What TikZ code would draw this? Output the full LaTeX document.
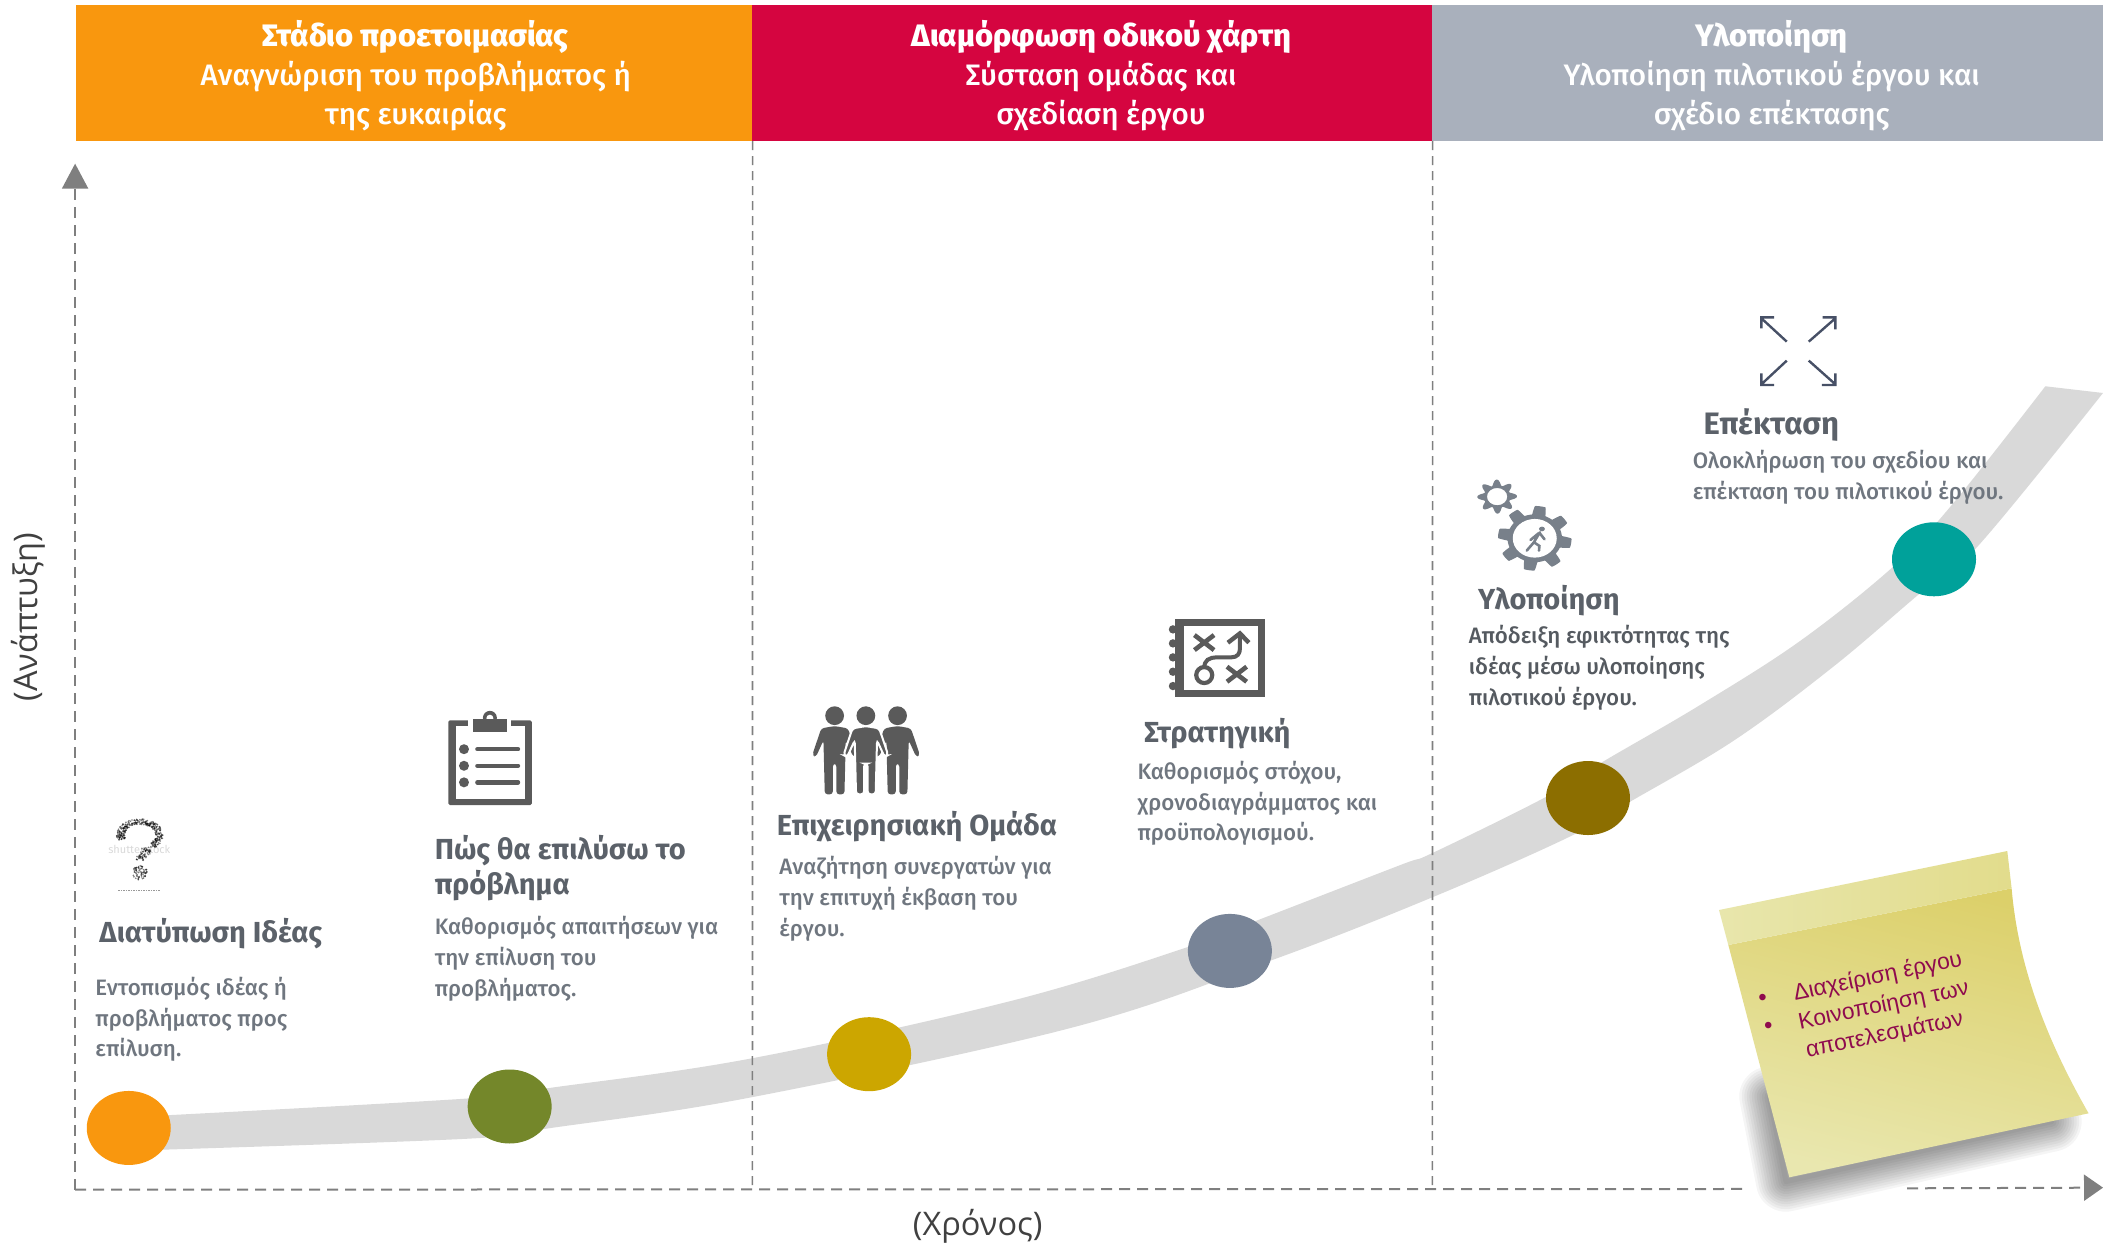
\documentclass[tikz,border=0pt]{standalone}
\usepackage{fontspec}
\usetikzlibrary{arrows.meta,shapes.geometric}
\setmainfont{Fira Sans}
\newfontfamily\medfont{Fira Sans Medium}
\newfontfamily\axisfont{Open Sans}
\newfontfamily\notefont{Liberation Sans}
\definecolor{cOrange}{HTML}{F9970E}
\definecolor{cCrimson}{HTML}{D50540}
\definecolor{cBand}{HTML}{A9B0BC}
\definecolor{cRibbon}{HTML}{D9D9D9}
\definecolor{cAxis}{HTML}{7F7F7F}
\definecolor{cTitle}{HTML}{5B6169}
\definecolor{cBody}{HTML}{6F767F}
\definecolor{cBodyDark}{HTML}{555A60}
\definecolor{cIcon}{HTML}{5A5A5A}
\definecolor{cGear}{HTML}{78808A}
\definecolor{cExpand}{HTML}{475066}
\definecolor{cNoteText}{HTML}{8F0B4E}
\tikzset{
  band/.style={rectangle,inner sep=0pt,draw=none},
  bandtext/.style={text=white,align=center,inner sep=0pt,font=\fontsize{29.6}{38.9}\selectfont\medfont},
  titletext/.style={anchor=west,inner sep=0pt,align=left,text=cTitle,font=\fontsize{29}{35}\selectfont\bfseries},
  bodytext/.style={anchor=west,inner sep=0pt,align=left,text=cBody,font=\fontsize{22.3}{30.8}\selectfont\medfont},
  axisline/.style={draw=cAxis,line width=2pt,dash pattern=on 11pt off 7pt},
  sepline/.style={draw=cAxis,line width=1.6pt,dash pattern=on 9pt off 6pt},
  milestone/.style={ellipse,draw=none,inner sep=0pt,minimum width=84pt,minimum height=74pt},
  axislabel/.style={inner sep=0pt,text=black!75,font=\fontsize{32.5}{38}\selectfont\axisfont},
  notetext/.style={anchor=base west,inner sep=0pt,rotate=11.6,text=cNoteText,font=\fontsize{22.8}{27}\selectfont\notefont},
}
\begin{document}
\begin{tikzpicture}[x=1.3412pt,y=-1.3412pt]
\useasboundingbox (0,0) rectangle (1568,928.3);
% ribbon
\fill[cRibbon] plot[smooth,tension=.6] coordinates {(96,833) (349,819) (411,811) (561,789) (755,746) (886,706) (938,686) (1044,645) (1068,636) (1153,594) (1195,568) (1267,526) (1342,478) (1411,423) (1454,378) (1525,288)}
 -- plot[smooth,tension=.6] coordinates {(1568,293) (1474,408) (1432,442) (1367,497) (1293,552) (1215,598) (1170,624) (1068,669) (948,716) (800,766) (561,818) (411,841) (349,849) (96,858)} -- cycle;
% header
\node[band,fill=cOrange,minimum width=676pt,minimum height=135.5pt] (b1) at (309,54.5) {};
\node[band,fill=cCrimson,minimum width=680pt,minimum height=135.5pt] (b2) at (814.5,54.5) {};
\node[band,fill=cBand,minimum width=670.6pt,minimum height=135.5pt] (b3) at (1318,54.5) {};
\node[bandtext] (t1) at (310,56.5) {{\fontsize{31}{38.9}\selectfont\bfseries Στάδιο προετοιμασίας}\\Αναγνώριση του προβλήματος ή\\της ευκαιρίας};
\node[bandtext] (t2) at (821,56.5) {{\fontsize{31}{38.9}\selectfont\bfseries Διαμόρφωση οδικού χάρτη}\\Σύσταση ομάδας και\\σχεδίαση έργου};
\node[bandtext] (t3) at (1321,56.5) {{\fontsize{31}{38.9}\selectfont\bfseries Υλοποίηση}\\Υλοποίηση πιλοτικού έργου και\\σχέδιο επέκτασης};
% axes
\coordinate (origin) at (56,887);
\coordinate (ytip) at (56,122);
\coordinate (xstop) at (1301,886.5);
\coordinate (xresume) at (1422,886);
\coordinate (xtip) at (1568,885.5);
\coordinate (s1) at (561,887);
\coordinate (s2) at (1068,887);
\draw[axisline,-{Triangle[length=25pt,width=26pt]}] (origin) -- (ytip);
\draw[axisline] (origin) -- (xstop);
\draw[axisline,-{Triangle[length=19pt,width=26pt]}] (xresume) -- (xtip);
\draw[sepline] (b1.south east) -- (s1);
\draw[sepline] (b2.south east) -- (s2);
\node[axislabel,rotate=90] (ylab) at (21,460) {(Ανάπτυξη)};
\node[axislabel] (xlab) at (729,914) {(Χρόνος)};
% milestones
\node[milestone,fill=cOrange] (m1) at (96,841) {};
\node[milestone,fill={rgb,255:red,116;green,135;blue,42}] (m2) at (380,825) {};
\node[milestone,fill={rgb,255:red,204;green,166;blue,0}] (m3) at (648,786) {};
\node[milestone,fill={rgb,255:red,120;green,132;blue,151}] (m4) at (917,709) {};
\node[milestone,fill={rgb,255:red,140;green,110;blue,0}] (m5) at (1184,595) {};
\node[milestone,fill={rgb,255:red,0;green,161;blue,154}] (m6) at (1442,417) {};
% texts
\node[titletext] (h1) at (74,696) {Διατύπωση Ιδέας};
\node[bodytext] (d1) at (71,760) {Εντοπισμός ιδέας ή\\προβλήματος προς\\επίλυση.};
\node[titletext] (h2) at (324,647) {Πώς θα επιλύσω το\\πρόβλημα};
\node[bodytext] (d2) at (324,715) {Καθορισμός απαιτήσεων για\\την επίλυση του\\προβλήματος.};
\node[titletext] (h3) at (579,616) {Επιχειρησιακή Ομάδα};
\node[bodytext] (d3) at (581,670) {Αναζήτηση συνεργατών για\\την επιτυχή έκβαση του\\έργου.};
\node[titletext] (h4) at (853,547) {Στρατηγική};
\node[bodytext] (d4) at (848,599) {Καθορισμός στόχου,\\χρονοδιαγράμματος και\\προϋπολογισμού.};
\node[titletext] (h5) at (1102,448) {Υλοποίηση};
\node[bodytext,text=cBodyDark] (d5) at (1095,498) {Απόδειξη εφικτότητας της\\ιδέας μέσω υλοποίησης\\πιλοτικού έργου.};
\node[titletext,font=\fontsize{31}{35}\selectfont\bfseries] (h6) at (1270,317) {Επέκταση};
\node[bodytext] (d6) at (1262,356) {Ολοκλήρωση του σχεδίου και\\επέκταση του πιλοτικού έργου.};
% question mark icon
\begin{scope}[shift={(67.1,596.5)},x=0.3333pt,y=-0.3333pt]
\node[inner sep=0pt,text=black!15,font=\fontsize{11}{12}\selectfont] (wm) at (148,148) {shutterstock};
\pgfmathsetseed{42}
\foreach \i in {1,...,320}{
  \pgfmathsetmacro\a{200-250*rnd}
  \pgfmathsetmacro\r{1+.42*(rnd-.5)}
  \fill[black,opacity=.5] ({150+58*\r*cos(\a)},{105-40*\r*sin(\a)}) circle[radius=.9pt];
}
\foreach \i in {1,...,70}{
  \pgfmathsetmacro\t{rnd}
  \fill[black,opacity=.5] ({178-28*\t+28*(rnd-.5)},{140+40*\t+12*(rnd-.5)}) circle[radius=.9pt];
}
\foreach \i in {1,...,70}{
  \pgfmathsetmacro\a{360*rnd}
  \pgfmathsetmacro\r{22*sqrt(rnd)}
  \fill[black,opacity=.5] ({150+\r*cos(\a)},{218+\r*sin(\a)}) circle[radius=.9pt];
}
\draw[black!40,line width=.7pt,dash pattern=on 1.5pt off 1pt] (85,272) -- (210,272);
\end{scope}
% clipboard icon
\begin{scope}[shift={(44.74,507)},x=0.4464pt,y=-0.3604pt]
\fill[cIcon,rounded corners=1.5pt] (870,112) rectangle (1057,347);
\fill[white] (886,128) rectangle (1041,330);
\fill[white] (915,105) rectangle (1011,130);
\fill[cIcon] (963,105) circle[radius=7pt];
\fill[white] (963,106) circle[radius=3.5pt];
\fill[cIcon] (925,108) rectangle (1001,143);
\foreach \yy in {192,238,284}{
  \fill[cIcon] (905,\yy) circle[radius=5pt];
  \draw[cIcon,line width=4.4pt,line cap=round] (935,\yy) -- (1026,\yy);
}
\end{scope}
% team icon
\begin{scope}[shift={(566.7,447.4)},x=0.4464pt,y=-0.3333pt]
\def\figpath#1{(#1,378) -- ++(-30,7) -- ++(-20,80) -- ++(8,6) -- ++(17,-50) -- ++(3,162) -- ++(18,0) -- ++(0,-92) -- ++(8,0) -- ++(0,92) -- ++(18,0) -- ++(3,-162) -- ++(17,50) -- ++(8,-6) -- ++(-20,-80) -- cycle}
\fill[cIcon,rounded corners=3pt] \figpath{167};
\fill[cIcon,rounded corners=3pt] \figpath{308};
\draw[white,line width=2pt,fill=cIcon,rounded corners=3pt] \figpath{237};
\foreach \cx in {167,237,308}{\fill[cIcon] (\cx,347) circle[radius=9.4pt];}
\end{scope}
% strategy icon
\begin{scope}[shift={(566.7,447.4)},x=0.4464pt,y=-0.3333pt]
\fill[cIcon] (930,58) rectangle (1132,290);
\fill[white] (950,78) rectangle (1115,270);
\foreach \yy in {88,130,172,215,258}{\fill[cIcon] (925,\yy) circle[radius=4.2pt];}
\draw[cIcon,line width=4.6pt] (973,105) -- (1017,150) (1017,105) -- (973,150);
\draw[cIcon,line width=4.6pt] (1046,200) -- (1090,245) (1090,200) -- (1046,245);
\draw[cIcon,line width=4.2pt] (995,225) circle[radius=8pt];
\draw[cIcon,line width=4pt] (995,205) .. controls (995,180) and (1005,172) .. (1025,172) -- (1055,172) .. controls (1070,172) and (1075,160) .. (1075,145) -- (1075,105);
\draw[cIcon,line width=4.4pt,line join=miter] (1048,128) -- (1075,100) -- (1095,128);
\end{scope}
% gears and expand icon
\begin{scope}[shift={(1073.7,216.2)},x=0.4228pt,y=-0.3333pt]
\fill[cGear] plot[domain=0:360,samples=289,smooth] ({224+87*(.87+.13*max(-1,min(1,2.6*sin(8*\x+20))))*cos(\x)},{745+97*(.87+.13*max(-1,min(1,2.6*sin(8*\x+20))))*sin(\x)}) -- cycle;
\fill[white] (224,745) ellipse[x radius=52,y radius=58];
\fill[cGear] (241,717) ellipse[x radius=7,y radius=7];
\draw[cGear,line width=2.6pt,line cap=round] (236,727) -- (222,757) (222,757) -- (205,782) (222,757) -- (235,768) -- (234,782) (233,730) -- (214,750) (236,730) -- (247,748);
\fill[cGear,even odd rule] plot[domain=0:360,samples=181,smooth] ({135+47*(.83+.17*cos(8*\x+10))*cos(\x)},{620+51*(.83+.17*cos(8*\x+10))*sin(\x)}) -- cycle (135,620) ellipse[x radius=24,y radius=26];
\begin{scope}[draw=cExpand,line width=2.4pt]
\draw (820,155) -- (760,85) (790,82) -- (760,82) -- (760,115);
\draw (872,155) -- (935,85) (905,82) -- (935,82) -- (935,118);
\draw (820,212) -- (760,283) (760,250) -- (760,285) -- (790,285);
\draw (872,212) -- (935,283) (935,250) -- (935,285) -- (903,285);
\end{scope}
\end{scope}
% sticky note
\begin{scope}[shift={(1252.6,611.4)},x=0.3333pt,y=-0.3333pt]
\foreach \w in {60,55,...,5}{
  \draw[black,opacity=.04,line width=\w pt,line join=round] (268,830) -- (318,1085) -- (1115,905) -- (1000,800) -- cycle;
}
\shade[top color={rgb,255:red,220;green,208;blue,106},bottom color={rgb,255:red,233;green,231;blue,175},shading angle=-14]
 (145,375) -- (995,205) .. controls (1015,440) and (1100,660) .. (1226,880) -- (328,1072) -- cycle;
\shade[left color={rgb,255:red,232;green,230;blue,172},right color={rgb,255:red,226;green,220;blue,140}]
 (117,270) -- (982,93) -- (995,205) -- (145,375) -- cycle;
\node[notetext] (n1) at (345,541) {Διαχείριση έργου};
\node[notetext] (n2) at (360,628) {Κοινοποίηση των};
\node[notetext] (n3) at (382,712) {αποτελεσμάτων};
\node[inner sep=0pt,text=cNoteText,font=\fontsize{24}{28}\selectfont\notefont] (b1n) at (248,540) {•};
\node[inner sep=0pt,text=cNoteText,font=\fontsize{24}{28}\selectfont\notefont] (b2n) at (265,624) {•};
\end{scope}
\end{tikzpicture}
\end{document}
